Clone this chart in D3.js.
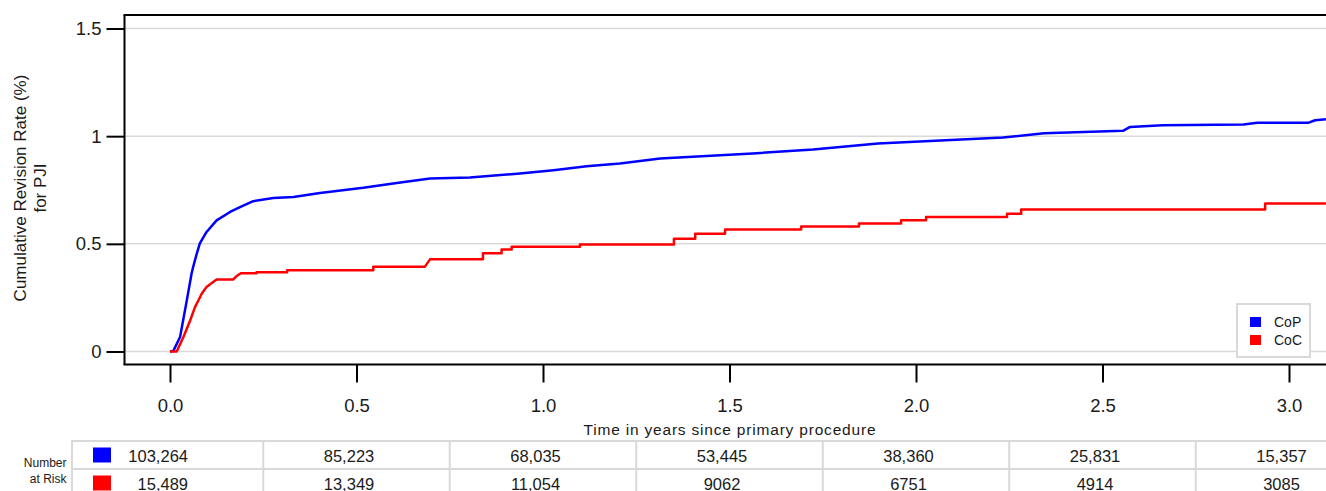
<!DOCTYPE html>
<html lang="en">
<head>
  <meta charset="UTF-8" />
  <title>Cumulative Revision Rate for PJI</title>
  <script src="https://d3js.org/d3.v7.min.js"></script>
  <style>
    body {
      margin: 0;
      padding: 0;
      background-color: white;
      font-family: "Liberation Sans", Arial, sans-serif;
    }

    svg {
      background-color: white;
      display: block;
    }

    .grid-line {
      stroke: #d9d9d9;
      stroke-width: 1.5px;
    }

    .frame-line {
      stroke: black;
      stroke-width: 2px;
    }

    .axis text {
      font-family: "Liberation Sans", Arial, sans-serif;
      font-size: 18.5px;
      fill: #1a1a1a;
    }

    .axis line {
      stroke: black;
      stroke-width: 2px;
    }

    .table-line {
      stroke: #d9d9d9;
      stroke-width: 2px;
    }

    .risk-value {
      font-size: 16.5px;
      fill: #1a1a1a;
    }

    .risk-label {
      font-size: 12px;
      fill: #1a1a1a;
    }

    .legend-text {
      font-size: 14px;
      fill: #1a1a1a;
    }
  </style>
</head>
<body>
  <svg id="chart" width="1326" height="491"></svg>

  <script>
    // ---- data ----
    const seriesNames = ["CoP", "CoC"];
    const seriesColors = ["#0000ff", "#ff0000"];

    const xTicks = [0.0, 0.5, 1.0, 1.5, 2.0, 2.5, 3.0];
    const yTicks = [0, 0.5, 1, 1.5];
    const yTickLabels = ["0", "0.5", "1", "1.5"];

    // CoP cumulative revision rate (%)
    const copYears = [0, 0.009, 0.027, 0.045, 0.058, 0.062, 0.072, 0.080, 0.098, 0.125, 0.161, 0.192,
      0.223, 0.277, 0.331, 0.402, 0.518, 0.608, 0.697, 0.804, 0.938, 1.028, 1.117, 1.206,
      1.314, 1.562, 1.724, 1.898, 2.233, 2.343, 2.555, 2.574, 2.661, 2.878, 2.915, 3.051,
      3.070, 3.099];
    const copRate = [0, 0.003, 0.067, 0.237, 0.363, 0.392, 0.456, 0.502, 0.555, 0.609, 0.648, 0.674,
      0.698, 0.713, 0.718, 0.736, 0.760, 0.783, 0.803, 0.808, 0.827, 0.842, 0.860, 0.873,
      0.896, 0.920, 0.938, 0.966, 0.994, 1.013, 1.025, 1.043, 1.051, 1.054, 1.062, 1.062,
      1.074, 1.078];

    // CoC cumulative revision rate (%), corner points of the staircase
    const cocYears = [0, 0.018, 0.036, 0.054, 0.067, 0.076, 0.085, 0.098, 0.112, 0.125,
      0.169, 0.177, 0.190, 0.232, 0.232, 0.314, 0.314, 0.545, 0.545, 0.683, 0.697,
      0.839, 0.839, 0.889, 0.889, 0.916, 0.916, 1.099, 1.099, 1.351, 1.351, 1.408, 1.408,
      1.488, 1.488, 1.692, 1.692, 1.847, 1.847, 1.960, 1.960, 2.027, 2.027, 2.244, 2.244,
      2.282, 2.282, 2.936, 2.936, 3.099];
    const cocRate = [0, 0, 0.067, 0.144, 0.206, 0.237, 0.268, 0.300, 0.318, 0.334,
      0.334, 0.348, 0.363, 0.363, 0.368, 0.368, 0.377, 0.377, 0.393, 0.393, 0.428,
      0.428, 0.456, 0.456, 0.474, 0.474, 0.487, 0.487, 0.497, 0.497, 0.524, 0.524, 0.547,
      0.547, 0.567, 0.567, 0.580, 0.580, 0.594, 0.594, 0.610, 0.610, 0.625, 0.625, 0.640,
      0.640, 0.659, 0.659, 0.687, 0.687];

    // Number at risk
    const riskCoP = ["103,264", "85,223", "68,035", "53,445", "38,360", "25,831", "15,357"];
    const riskCoC = ["15,489", "13,349", "11,054", "9062", "6751", "4914", "3085"];

    const xTitle = "Time in years since primary procedure";
    const yTitle = ["Cumulative Revision Rate (%)", "for PJI"];

    // ---- layout ----
    const W = 1326;
    const plotLeft = 124.5, plotTop = 15, plotBottom = 364.5;
    const tableLeft = 72, tableTop = 441, rowH = 28;

    const svg = d3.select("#chart");

    const x = d3.scaleLinear().domain([0, 3]).range([170, 1289]);
    const y = d3.scaleLinear().domain([0, 1.5]).range([351.5, 28.5]);

    svg.append("defs").append("clipPath")
      .attr("id", "plot-clip")
      .append("rect")
      .attr("x", plotLeft)
      .attr("y", plotTop)
      .attr("width", W - plotLeft)
      .attr("height", plotBottom - plotTop);

    // gridlines
    svg.selectAll(".grid-line")
      .data(yTicks)
      .join("line")
      .attr("class", "grid-line")
      .attr("x1", plotLeft)
      .attr("x2", W)
      .attr("y1", d => y(d))
      .attr("y2", d => y(d));

    // curves
    const seriesData = [
      copYears.map((t, i) => [t, copRate[i]]),
      cocYears.map((t, i) => [t, cocRate[i]])
    ];

    const line = d3.line()
      .x(d => x(d[0]))
      .y(d => y(d[1]));

    const plotG = svg.append("g").attr("clip-path", "url(#plot-clip)");
    seriesData.forEach((pts, i) => {
      plotG.append("path")
        .datum(pts)
        .attr("fill", "none")
        .attr("stroke", seriesColors[i])
        .attr("stroke-width", 2.5)
        .attr("stroke-linejoin", "round")
        .attr("d", line);
    });

    // frame
    svg.append("line").attr("class", "frame-line")
      .attr("x1", plotLeft - 1).attr("x2", W).attr("y1", plotTop).attr("y2", plotTop);
    svg.append("line").attr("class", "frame-line")
      .attr("x1", plotLeft).attr("x2", plotLeft).attr("y1", plotTop).attr("y2", plotBottom);
    svg.append("line").attr("class", "frame-line")
      .attr("x1", plotLeft - 1).attr("x2", W).attr("y1", plotBottom).attr("y2", plotBottom);

    // axes
    const yAxis = d3.axisLeft(y)
      .tickValues(yTicks)
      .tickSize(18)
      .tickPadding(5)
      .tickFormat((d, i) => yTickLabels[i]);
    svg.append("g")
      .attr("class", "axis")
      .attr("transform", `translate(${plotLeft},0)`)
      .call(yAxis)
      .call(g => g.select(".domain").remove());

    const xAxis = d3.axisBottom(x)
      .tickValues(xTicks)
      .tickSize(18)
      .tickPadding(16)
      .tickFormat(d3.format(".1f"));
    svg.append("g")
      .attr("class", "axis")
      .attr("transform", `translate(0,${plotBottom})`)
      .call(xAxis)
      .call(g => g.select(".domain").remove());

    // axis titles
    svg.append("text")
      .attr("x", 729.5)
      .attr("y", 435)
      .attr("text-anchor", "middle")
      .attr("textLength", 292)
      .style("font-size", "15.5px")
      .style("fill", "#1a1a1a")
      .text(xTitle);

    const yTitleG = svg.append("g")
      .attr("transform", "translate(0,188) rotate(-90)");
    yTitleG.selectAll("text")
      .data(yTitle)
      .join("text")
      .attr("x", 0)
      .attr("y", (d, i) => i === 0 ? 25.5 : 46)
      .attr("text-anchor", "middle")
      .style("font-size", "17px")
      .style("fill", "#1a1a1a")
      .text(d => d);

    // legend
    const legend = svg.append("g");
    legend.append("rect")
      .attr("x", 1237).attr("y", 304)
      .attr("width", 73).attr("height", 53)
      .attr("fill", "white")
      .attr("stroke", "#d9d9d9")
      .attr("stroke-width", 2);
    seriesNames.forEach((name, i) => {
      legend.append("rect")
        .attr("x", 1250).attr("y", 317 + i * 18)
        .attr("width", 11).attr("height", 10)
        .attr("fill", seriesColors[i]);
      legend.append("text")
        .attr("class", "legend-text")
        .attr("x", 1274).attr("y", 322 + i * 18)
        .attr("dy", "0.35em")
        .text(name);
    });

    // number at risk table
    const table = svg.append("g");
    const colEdges = [tableLeft].concat(xTicks.slice(1).map(t => x(t - 0.25)));

    [tableTop, tableTop + rowH, tableTop + 2 * rowH].forEach(yy => {
      table.append("line").attr("class", "table-line")
        .attr("x1", tableLeft - 1).attr("x2", W).attr("y1", yy).attr("y2", yy);
    });
    colEdges.forEach(xx => {
      table.append("line").attr("class", "table-line")
        .attr("x1", xx).attr("x2", xx).attr("y1", tableTop).attr("y2", tableTop + 2 * rowH);
    });

    [riskCoP, riskCoC].forEach((row, r) => {
      table.append("rect")
        .attr("x", 93).attr("y", 447.5 + r * rowH)
        .attr("width", 18).attr("height", 15)
        .attr("fill", seriesColors[r]);
      table.selectAll(`.risk-row-${r}`)
        .data(row)
        .join("text")
        .attr("class", `risk-value risk-row-${r}`)
        .attr("x", (d, i) => i === 0 ? 188 : x(xTicks[i]) - 7.5)
        .attr("y", 461.5 + r * rowH)
        .attr("text-anchor", (d, i) => i === 0 ? "end" : "middle")
        .text(d => d);
    });

    table.append("text").attr("class", "risk-label")
      .attr("x", 66.5).attr("y", 467).attr("text-anchor", "end").text("Number");
    table.append("text").attr("class", "risk-label")
      .attr("x", 66.5).attr("y", 483).attr("text-anchor", "end").text("at Risk");
  </script>
</body>
</html>
